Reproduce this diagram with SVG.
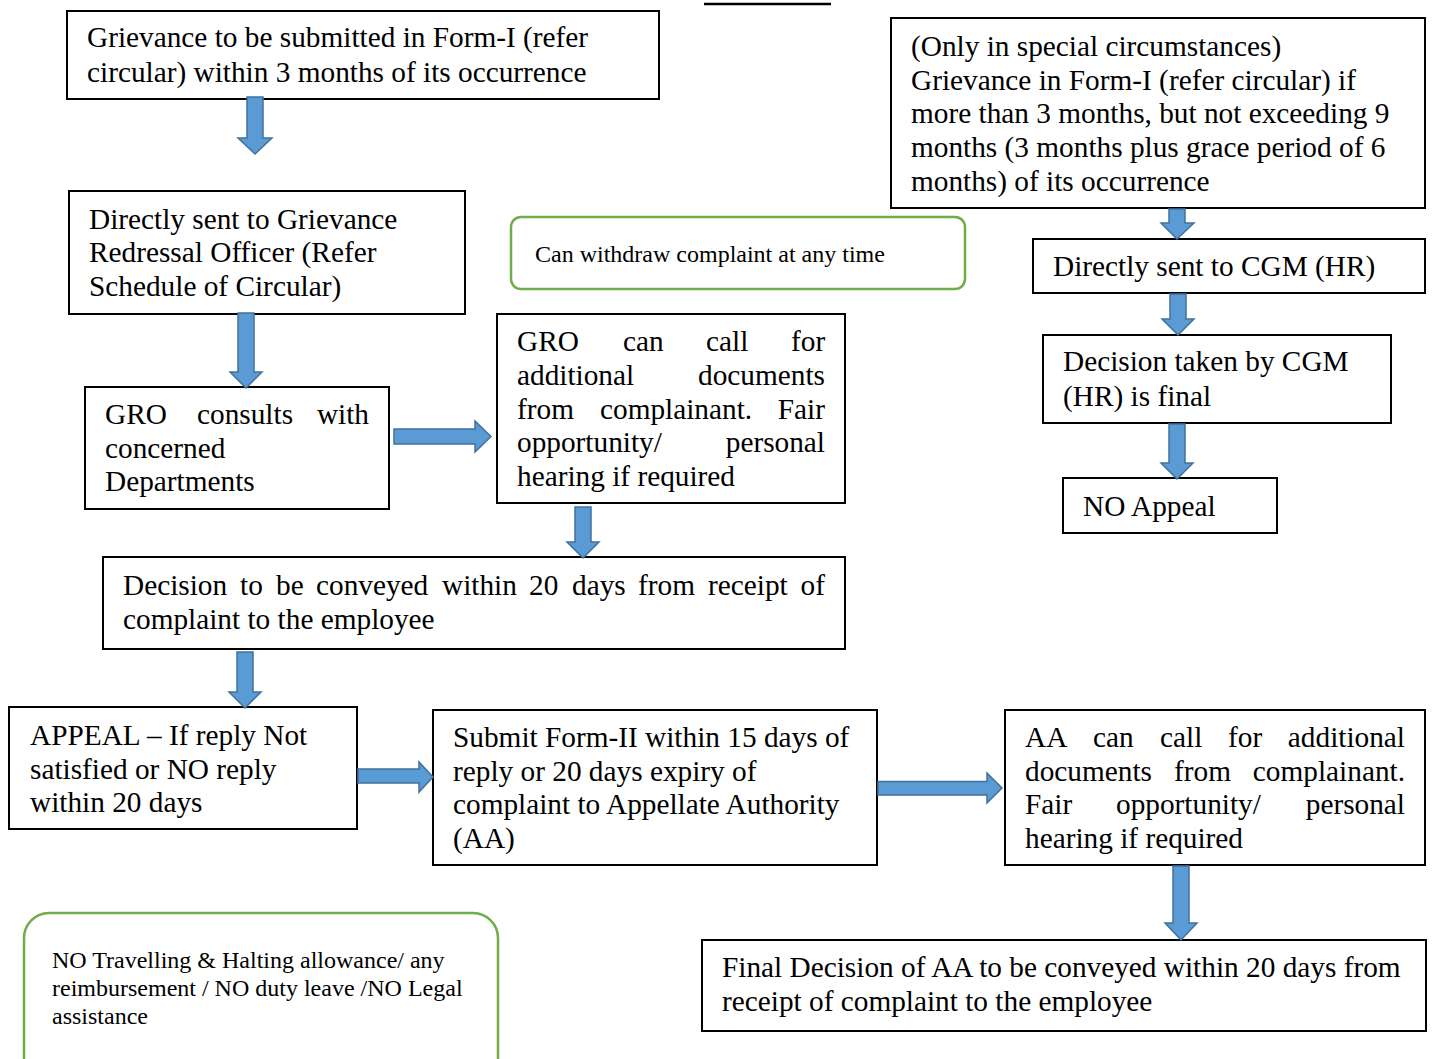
<svg xmlns="http://www.w3.org/2000/svg" width="1434" height="1059" viewBox="0 0 1434 1059">
<style>
.box{fill:#fff;stroke:#000;stroke-width:2}
.note{fill:#fff;stroke:#70AD47;stroke-width:2.5}
.arr{fill:#5B9BD5;stroke:#41719C;stroke-width:1.5;stroke-linejoin:miter}
text{font-family:"Liberation Serif","Times New Roman",serif;font-size:29.3px;fill:#000}
.sm{font-size:24px}
.e{text-anchor:end}
</style>
<rect width="1434" height="1059" fill="#fff"/>
<line x1="704" y1="4" x2="831" y2="4" stroke="#000" stroke-width="2.5"/>

<g id="nodeA"><rect class="box" x="67" y="11" width="592" height="88"/>
<text x="87" y="47">Grievance to be submitted in Form-I (refer</text>
<text x="87" y="82">circular) within 3 months of its occurrence</text></g>

<g id="nodeB"><rect class="box" x="69" y="191" width="396" height="123"/>
<text x="89" y="229">Directly sent to Grievance</text>
<text x="89" y="262">Redressal Officer (Refer</text>
<text x="89" y="296">Schedule of Circular)</text></g>

<g id="noteWithdraw"><rect class="note" x="511" y="217" width="454" height="72" rx="10"/>
<text class="sm" x="535" y="262">Can withdraw complaint at any time</text></g>

<g id="nodeC"><rect class="box" x="85" y="387" width="304" height="122"/>
<text y="424"><tspan x="105">GRO</tspan><tspan x="197">consults</tspan><tspan x="369" class="e" text-anchor="end">with</tspan></text>
<text x="105" y="458">concerned</text>
<text x="105" y="491">Departments</text></g>

<g id="nodeD"><rect class="box" x="497" y="314" width="348" height="189"/>
<text y="351"><tspan x="517">GRO</tspan><tspan x="623">can</tspan><tspan x="706">call</tspan><tspan x="791">for</tspan></text>
<text y="385"><tspan x="517">additional</tspan></text><text class="e" x="825" y="385">documents</text>
<text y="419"><tspan x="517">from</tspan><tspan x="600">complainant.</tspan></text><text class="e" x="825" y="419">Fair</text>
<text y="452"><tspan x="517">opportunity/</tspan></text><text class="e" x="825" y="452">personal</text>
<text x="517" y="486">hearing if required</text></g>

<g id="nodeE"><rect class="box" x="103" y="557" width="742" height="92"/>
<text y="595"><tspan x="123">Decision</tspan><tspan x="240">to</tspan><tspan x="276">be</tspan><tspan x="316">conveyed</tspan><tspan x="442">within</tspan><tspan x="529">20</tspan><tspan x="572">days</tspan><tspan x="638">from</tspan><tspan x="708">receipt</tspan></text><text class="e" x="825" y="595">of</text>
<text x="123" y="629">complaint to the employee</text></g>

<g id="nodeF"><rect class="box" x="9" y="707" width="348" height="122"/>
<text x="30" y="745">APPEAL – If reply Not</text>
<text x="30" y="779">satisfied or NO reply</text>
<text x="30" y="812">within 20 days</text></g>

<g id="nodeG"><rect class="box" x="433" y="710" width="444" height="155"/>
<text x="453" y="747">Submit Form-II within 15 days of</text>
<text x="453" y="781">reply or 20 days expiry of</text>
<text x="453" y="814">complaint to Appellate Authority</text>
<text x="453" y="848">(AA)</text></g>

<g id="nodeH"><rect class="box" x="1005" y="710" width="420" height="155"/>
<text y="747"><tspan x="1025">AA</tspan><tspan x="1093">can</tspan><tspan x="1160">call</tspan><tspan x="1228">for</tspan></text><text class="e" x="1405" y="747">additional</text>
<text y="781"><tspan x="1025">documents</tspan><tspan x="1174">from</tspan></text><text class="e" x="1405" y="781">complainant.</text>
<text y="814"><tspan x="1025">Fair</tspan><tspan x="1116">opportunity/</tspan></text><text class="e" x="1405" y="814">personal</text>
<text x="1025" y="848">hearing if required</text></g>

<g id="nodeI"><rect class="box" x="702" y="940" width="724" height="91"/>
<text x="722" y="977">Final Decision of AA to be conveyed within 20 days from</text>
<text x="722" y="1011">receipt of complaint to the employee</text></g>

<g id="noteAllowance"><rect class="note" x="24" y="913" width="474" height="180" rx="25"/>
<text class="sm" x="52" y="968">NO Travelling &amp; Halting allowance/ any</text>
<text class="sm" x="52" y="996">reimbursement / NO duty leave /NO Legal</text>
<text class="sm" x="52" y="1024">assistance</text></g>

<g id="nodeJ"><rect class="box" x="891" y="18" width="534" height="190"/>
<text x="911" y="56">(Only in special circumstances)</text>
<text x="911" y="90">Grievance in Form-I (refer circular) if</text>
<text x="911" y="123">more than 3 months, but not exceeding 9</text>
<text x="911" y="157">months (3 months plus grace period of 6</text>
<text x="911" y="191">months) of its occurrence</text></g>

<g id="nodeK"><rect class="box" x="1033" y="239" width="392" height="54"/>
<text x="1053" y="276">Directly sent to CGM (HR)</text></g>

<g id="nodeL"><rect class="box" x="1043" y="335" width="348" height="88"/>
<text x="1063" y="371">Decision taken by CGM</text>
<text x="1063" y="406">(HR) is final</text></g>

<g id="nodeM"><rect class="box" x="1063" y="478" width="214" height="55"/>
<text x="1083" y="516">NO Appeal</text></g>

<g id="connectors">
<path class="arr" d="M247,97 H263 V138 H272 L255,154 L238,138 H247 Z"/>
<path class="arr" d="M238,313 H254 V372 H262 L246,388 L230,372 H238 Z"/>
<path class="arr" d="M394,429 H475 V421 L491,436.5 L475,452 V444 H394 Z"/>
<path class="arr" d="M575,507 H591 V542 H599 L583,558 L567,542 H575 Z"/>
<path class="arr" d="M237,652 H253 V692 H261 L245,708 L229,692 H237 Z"/>
<path class="arr" d="M358,769 H419 V762 L433,777 L419,792 V783 H358 Z"/>
<path class="arr" d="M878,781.5 H987 V773 L1002,788 L987,803 V795 H878 Z"/>
<path class="arr" d="M1173,866 H1189 V923 H1197 L1181,940 L1165,923 H1173 Z"/>
<path class="arr" d="M1169,209 H1185 V223 H1194 L1177,239 L1161,223 H1169 Z"/>
<path class="arr" d="M1170,294 H1186 V319 H1194 L1178,335 L1162,319 H1170 Z"/>
<path class="arr" d="M1169,424 H1185 V463 H1193 L1177,479 L1161,463 H1169 Z"/>
</g>
</svg>
